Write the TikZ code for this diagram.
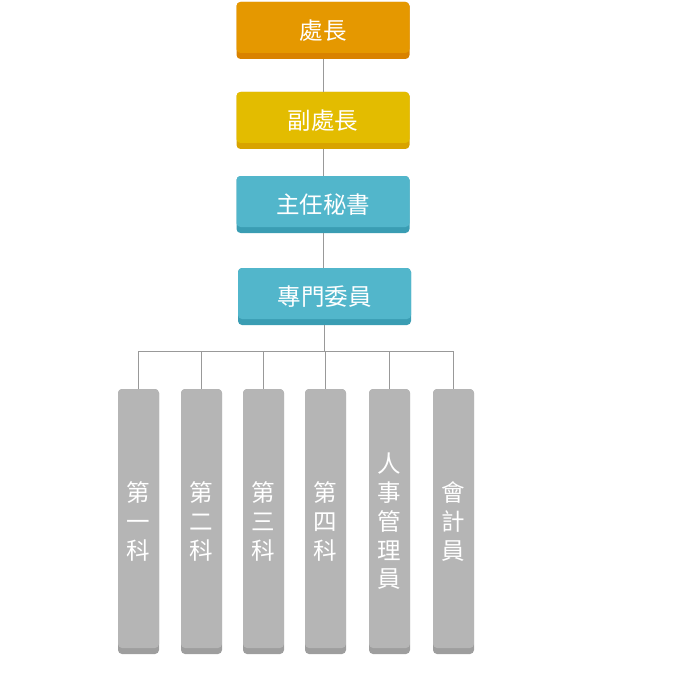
\documentclass[tikz,border=0pt]{standalone}
\usepackage{fontspec}
\newfontfamily\cjk{Noto Sans CJK TC}
\definecolor{orgM}{HTML}{E59800}
\definecolor{orgD}{HTML}{D98200}
\definecolor{yelM}{HTML}{E3BC00}
\definecolor{yelD}{HTML}{D8A300}
\definecolor{teaM}{HTML}{52B6CB}
\definecolor{teaD}{HTML}{3A9DB3}
\definecolor{gryM}{HTML}{B5B5B5}
\definecolor{gryD}{HTML}{9E9E9E}
\definecolor{lineC}{HTML}{999999}
\tikzset{
  box/.style 2 args={draw=none, fill=#2, rounded corners=4pt, inner sep=0pt,
    text=white, font=\cjk\fontsize{23.5}{28.75}\selectfont, align=center,
    path picture={\fill[#1] ([yshift=6pt]path picture bounding box.south west) rectangle (path picture bounding box.north east);}},
  topbox/.style 2 args={box={#1}{#2}, minimum width=173pt, minimum height=57pt},
  colbox/.style={box={gryM}{gryD}, minimum width=41pt, minimum height=265pt},
  conn/.style={draw=lineC, line width=0.9pt}
}
\begin{document}
\begin{tikzpicture}[x=1pt,y=-1pt]
\useasboundingbox (0,0) rectangle (683,687);
\node[topbox={orgM}{orgD}] (a) at (323,30.5) {處長};
\node[topbox={yelM}{yelD}] (b) at (323,120.5) {副處長};
\node[topbox={teaM}{teaD}] (c) at (323,204.5) {主任秘書};
\node[topbox={teaM}{teaD}] (d) at (324.5,296.5) {專門委員};
\node[colbox] (k1) at (138.5,521.5) {第\\一\\科};
\node[colbox] (k2) at (201.5,521.5) {第\\二\\科};
\node[colbox] (k3) at (263.5,521.5) {第\\三\\科};
\node[colbox] (k4) at (325.5,521.5) {第\\四\\科};
\node[colbox] (k5) at (389.5,521.5) {人\\事\\管\\理\\員};
\node[colbox] (k6) at (453.5,521.5) {會\\計\\員};
\draw[conn] (a.south) -- (b.north);
\draw[conn] (b.south) -- (c.north);
\draw[conn] (c.south) -- (c.south |- d.north);
\foreach \k in {k1,k2,k3,k4,k5,k6}{
  \draw[conn] (d.south) -- ++(0,26) -| (\k.north);
}
\end{tikzpicture}
\end{document}
